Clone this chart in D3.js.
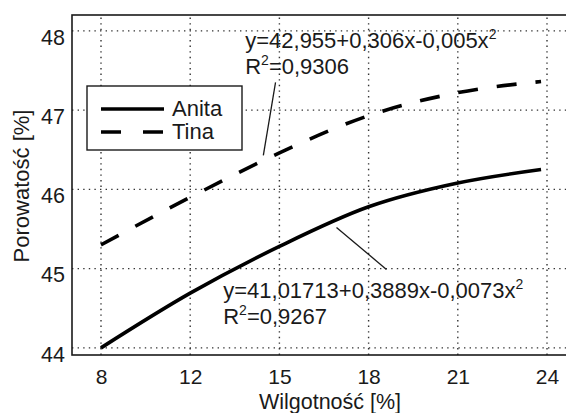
<!DOCTYPE html>
<html><head><meta charset="utf-8">
<script src="https://cdn.jsdelivr.net/npm/d3@7"></script>
<style>
html,body{margin:0;padding:0;background:#fff;}
svg{display:block;font-family:Arial,"Liberation Sans",Helvetica,sans-serif;}
</style></head>
<body>
<svg id="chart" width="566" height="413"></svg>
<script>
// ---- data ----
const xTicks = [8, 12, 15, 18, 21, 24];
const yTicks = [44, 45, 46, 47, 48];
const xValues = [8, 12, 15, 18, 21, 23.8];
const anita = [44.00, 44.69, 45.28, 45.78, 46.08, 46.25];
const tina  = [45.30, 45.90, 46.46, 46.93, 47.22, 47.36];
const seriesNames = ["Anita", "Tina"];
const eqTina = {lines:["y=42,955+0,306x-0,005x", "R", "=0,9306"], at:[13.85, 47.78], anchor:[14.46, 46.43], tail:[14.87, 47.35]};
const eqAnita = {lines:["y=41,01713+0,3889x-0,0073x", "R", "=0,9267"], at:[13.11, 44.63], anchor:[16.92, 45.52], tail:[18.6, 44.99]};
const xTitle = "Wilgotność [%]";
const yTitle = "Porowatość [%]";

// ---- layout ----
const svg = d3.select("#chart");
const box = {left:72, right:578, top:15, bottom:355};
const tickPx = d3.range(xTicks.length).map(i => 101 + i * (547 - 101) / (xTicks.length - 1));
const x = d3.scaleLinear().domain(xTicks).range(tickPx);
const y = d3.scaleLinear().domain([43.91, 48.2]).range([box.bottom, box.top]);
const ink = "#1a1a1a";
const FONT = "Arial,'Liberation Sans',sans-serif";

// grid (dotted)
const grid = svg.append("g").attr("stroke", "#333").attr("stroke-width", 1.4).attr("stroke-dasharray", "1.4,4.2");
grid.selectAll(".gx").data(xTicks).join("line")
  .attr("x1", d => x(d)).attr("x2", d => x(d)).attr("y1", box.bottom).attr("y2", box.top);
grid.selectAll(".gy").data(yTicks).join("line")
  .attr("y1", d => y(d)).attr("y2", d => y(d)).attr("x1", box.left).attr("x2", box.right);

// axes (tick labels) via d3 axis
const xAxis = d3.axisBottom(x).tickValues(xTicks).tickSize(0).tickPadding(14).tickFormat(d3.format("d"));
const gx = svg.append("g").attr("transform", `translate(0,${box.bottom})`).call(xAxis);
gx.select(".domain").remove();
gx.selectAll("text").attr("font-size", 21).attr("fill", ink).attr("font-family", FONT);
const yAxis = d3.axisLeft(y).tickValues(yTicks).tickSize(0).tickPadding(7).tickFormat(d3.format("d"));
const gy = svg.append("g").attr("transform", `translate(${box.left},0)`).call(yAxis);
gy.select(".domain").remove();
gy.selectAll("text").attr("font-size", 21.5).attr("fill", ink).attr("dy", "0.62em").attr("font-family", FONT);

// box
svg.append("rect").attr("x", box.left).attr("y", box.top)
  .attr("width", box.right - box.left).attr("height", box.bottom - box.top)
  .attr("fill", "none").attr("stroke", ink).attr("stroke-width", 1.6);

// curves
const line = d3.line().x((d, i) => x(xValues[i])).y(d => y(d)).curve(d3.curveMonotoneX);
svg.append("path").datum(anita).attr("d", line).attr("fill", "none").attr("stroke", "#000").attr("stroke-width", 3.6);
svg.append("path").datum(tina).attr("d", line).attr("fill", "none").attr("stroke", "#000").attr("stroke-width", 3.6).attr("stroke-dasharray", "20,19");

// annotations
function eq(e) {
  svg.append("line").attr("x1", x(e.anchor[0])).attr("y1", y(e.anchor[1]))
    .attr("x2", x(e.tail[0])).attr("y2", y(e.tail[1])).attr("stroke", ink).attr("stroke-width", 1.3);
  const t1 = svg.append("text").attr("x", x(e.at[0])).attr("y", y(e.at[1])).attr("font-size", 22).attr("fill", ink);
  t1.append("tspan").text(e.lines[0]);
  t1.append("tspan").attr("font-size", 14).attr("dy", -9).text("2");
  const t2 = svg.append("text").attr("x", x(e.at[0])).attr("y", y(e.at[1]) + 26).attr("font-size", 22).attr("fill", ink);
  t2.append("tspan").text(e.lines[1]);
  t2.append("tspan").attr("font-size", 14).attr("dy", -9).text("2");
  t2.append("tspan").attr("dy", 9).text(e.lines[2]);
}
eq(eqTina);
eq(eqAnita);

// legend
const lg = svg.append("g");
lg.append("rect").attr("x", 87).attr("y", 86).attr("width", 155).attr("height", 64)
  .attr("fill", "#fff").attr("stroke", ink).attr("stroke-width", 1.4);
seriesNames.forEach((n, i) => {
  const yy = 109 + i * 23;
  lg.append("line").attr("x1", 101).attr("x2", 164).attr("y1", yy).attr("y2", yy)
    .attr("stroke", "#000").attr("stroke-width", 3.6).attr("stroke-dasharray", i === 1 ? "20,22" : null);
  lg.append("text").attr("x", 172).attr("y", yy + 7).attr("font-size", 22).attr("fill", ink).text(n);
});

// axis titles
svg.append("text").attr("x", 330).attr("y", 408.5).attr("text-anchor", "middle").attr("font-size", 21.5).attr("fill", ink).text(xTitle);
svg.append("text").attr("transform", `translate(29,186) rotate(-90)`).attr("text-anchor", "middle").attr("font-size", 22).attr("fill", ink).text(yTitle);
</script>
</body></html>
